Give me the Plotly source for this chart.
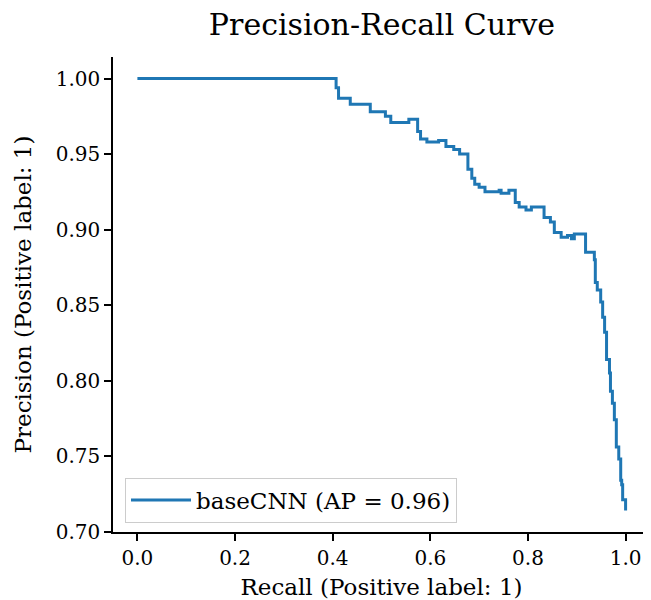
import plotly.graph_objects as go

# Step start recall values and precision levels
recall = [0.000, 0.407, 0.412, 0.436, 0.477, 0.508, 0.519, 0.556, 0.574, 0.580,
          0.593, 0.617, 0.632, 0.648, 0.660, 0.677, 0.685, 0.691, 0.700, 0.712,
          0.741, 0.745, 0.761, 0.774, 0.782, 0.796, 0.807, 0.833, 0.846, 0.854,
          0.868, 0.881, 0.889, 0.895, 0.918, 0.936, 0.938, 0.942, 0.949, 0.953,
          0.957, 0.961, 0.967, 0.969, 0.973, 0.977, 0.981, 0.986, 0.990, 0.992,
          0.994, 1.000]
precision = [1.000, 0.994, 0.987, 0.983, 0.978, 0.975, 0.971, 0.973, 0.965, 0.960,
             0.958, 0.959, 0.955, 0.953, 0.950, 0.940, 0.934, 0.930, 0.928, 0.925,
             0.926, 0.924, 0.926, 0.918, 0.915, 0.913, 0.915, 0.908, 0.905, 0.898,
             0.895, 0.896, 0.894, 0.897, 0.885, 0.880, 0.865, 0.860, 0.852, 0.842,
             0.832, 0.814, 0.805, 0.793, 0.785, 0.774, 0.756, 0.748, 0.734, 0.731,
             0.721, 0.714]

series_name = "baseCNN (AP = 0.96)"
title_text = "Precision-Recall Curve"
x_label = "Recall (Positive label: 1)"
y_label = "Precision (Positive label: 1)"
x_ticks = [0.0, 0.2, 0.4, 0.6, 0.8, 1.0]
y_ticks = [0.70, 0.75, 0.80, 0.85, 0.90, 0.95, 1.00]

FONT = "DejaVu Serif"
# page has an 8px body margin, so the figure is drawn 8px in from the top-left
W, H = 643, 592
L, R, T, B = 105, 1, 49, 67.5
PW, PH = W - L - R, H - T - B

fig = go.Figure()
fig.add_trace(go.Scatter(
    x=recall, y=precision, mode="lines", name=series_name,
    line=dict(color="#1f77b4", width=3, shape="hv"),
))

axis_common = dict(
    showline=True, linecolor="black", linewidth=1.6,
    ticks="outside", ticklen=7, tickwidth=1.6, tickcolor="black",
    showgrid=False, zeroline=False, mirror=False, automargin=False,
    tickfont=dict(family=FONT, size=20, color="black"),
)

fig.update_layout(
    width=W, height=H,
    margin=dict(l=L, r=R, t=T, b=B),
    paper_bgcolor="white", plot_bgcolor="white",
    font=dict(family=FONT, size=20, color="black"),
    title=dict(text=title_text, x=374 / W, xanchor="center",
               y=1 - 16 / H, yanchor="middle",
               font=dict(family=FONT, size=30, color="black")),
    xaxis=dict(range=[-0.05, 1.05], tickvals=x_ticks,
               ticktext=[f"{v:.1f}" for v in x_ticks],
               title=dict(text=x_label, font=dict(family=FONT, size=23, color="black"),
                          standoff=11),
               **axis_common),
    yaxis=dict(range=[0.6997, 1.0143], tickvals=y_ticks,
               ticktext=[f"{v:.2f}" for v in y_ticks],
               title=dict(text=y_label, font=dict(family=FONT, size=23, color="black"),
                          standoff=18),
               **axis_common),
    showlegend=True,
    legend=dict(x=(117 - L) / PW, y=(H - B - 470) / PH,
                xanchor="left", yanchor="top",
                bordercolor="#cccccc", borderwidth=1, bgcolor="white",
                itemwidth=60,
                font=dict(family=FONT, size=23, color="black")),
)

fig.write_html("out.html")
